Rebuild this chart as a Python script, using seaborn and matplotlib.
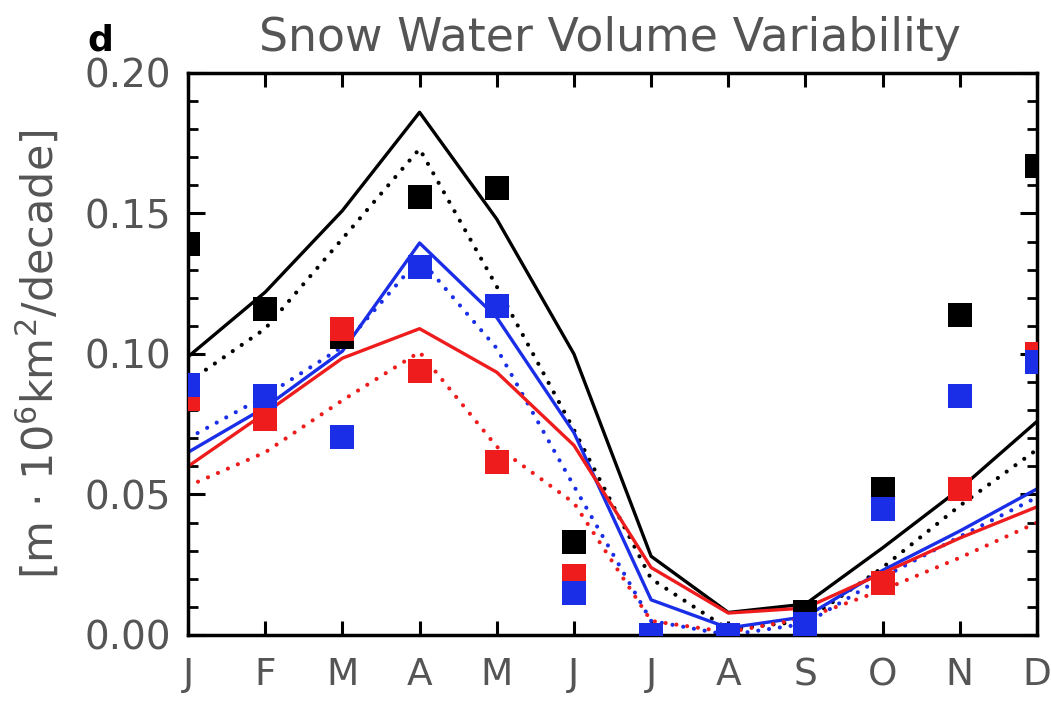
import numpy as np
import pandas as pd
import matplotlib
matplotlib.use("Agg")
import matplotlib.pyplot as plt
import seaborn as sns

months = ["J", "F", "M", "A", "M", "J", "J", "A", "S", "O", "N", "D"]
yticks = [0.00, 0.05, 0.10, 0.15, 0.20]
ytick_labels = ["0.00", "0.05", "0.10", "0.15", "0.20"]

# lines
black_solid = [0.099, 0.122, 0.151, 0.186, 0.148, 0.100, 0.028, 0.008, 0.011, 0.031, 0.052, 0.076]
black_dotted = [0.090, 0.109, 0.141, 0.173, 0.124, 0.073, 0.020, 0.002, 0.005, 0.024, 0.046, 0.066]
blue_solid = [0.065, 0.081, 0.101, 0.1395, 0.113, 0.072, 0.0125, 0.0025, 0.0065, 0.023, 0.037, 0.052]
blue_dotted = [0.070, 0.085, 0.1025, 0.134, 0.102, 0.053, 0.005, 0.000, 0.004, 0.0205, 0.035, 0.049]
red_solid = [0.060, 0.079, 0.0985, 0.109, 0.0935, 0.0675, 0.024, 0.0078, 0.0096, 0.022, 0.0345, 0.0456]
red_dotted = [0.053, 0.065, 0.0835, 0.1007, 0.067, 0.047, 0.005, 0.001, 0.006, 0.016, 0.0275, 0.040]

# squares
black_sq = [0.139, 0.116, 0.106, 0.156, 0.159, 0.033, 0.000, 0.000, 0.008, 0.052, 0.114, 0.167]
red_sq = [0.084, 0.077, 0.109, 0.094, 0.0615, 0.021, 0.000, 0.000, 0.004, 0.0185, 0.052, 0.100]
blue_sq = [0.089, 0.085, 0.0705, 0.131, 0.117, 0.015, 0.000, 0.000, 0.004, 0.045, 0.085, 0.097]

BLACK = "#000000"
RED = "#ee1c1c"
BLUE = "#1a2ee8"
GREY = "#555555"

sns.set_style("white")
plt.rcParams['font.family'] = ['DejaVu Sans']

fig = plt.figure(figsize=(10.51, 7.01), dpi=100)
ax = fig.add_axes([0.1789, 0.0942, 0.8078, 0.8017])

x = np.arange(len(months))
dot = (0, (0.01, 2.6))
for vals, col, ls in [(black_solid, BLACK, "-"), (black_dotted, BLACK, dot),
                      (blue_solid, BLUE, "-"), (blue_dotted, BLUE, dot),
                      (red_solid, RED, "-"), (red_dotted, RED, dot)]:
    sns.lineplot(x=x, y=vals, color=col, ax=ax, linewidth=2.4 if ls == "-" else 3.0,
                 linestyle=ls, dash_capstyle="round")

for vals, col in [(black_sq, BLACK), (red_sq, RED), (blue_sq, BLUE)]:
    sns.scatterplot(x=x, y=vals, color=col, marker="s", s=290, linewidth=0, ax=ax,
                    zorder=5, clip_on=True)

ax.set_xlim(0, 11)
ax.set_ylim(0, 0.20)
ax.set_xticks(x)
ax.set_xticklabels(months)
ax.set_yticks(yticks)
ax.set_yticklabels(ytick_labels)
ax.set_yticks(np.arange(0, 0.2001, 0.01), minor=True)

for s in ax.spines.values():
    s.set_visible(True)
    s.set_color("black")
    s.set_linewidth(2.5)

ax.tick_params(axis="both", which="major", direction="in", length=12, width=2.2,
               top=True, right=True, bottom=True, left=True,
               labelsize=28, labelcolor=GREY, pad=12, color="black")
ax.tick_params(axis="y", which="minor", direction="in", length=7, width=2.0,
               left=True, right=True, color="black")
ax.tick_params(axis="x", which="major", length=10, pad=16, labelsize=27)

ax.set_ylabel("[m $\\cdot$ 10$^6$km$^2$/decade]", fontsize=31, color=GREY, labelpad=16)
ax.set_xlabel("")
fig.text(0.58, 0.945, "Snow Water Volume Variability", fontsize=33, color=GREY,
         ha="center", va="center")
fig.text(0.095, 0.942, "d", fontsize=26, fontweight="bold", color="black",
         ha="center", va="center")

fig.savefig("out.png", dpi=100)
